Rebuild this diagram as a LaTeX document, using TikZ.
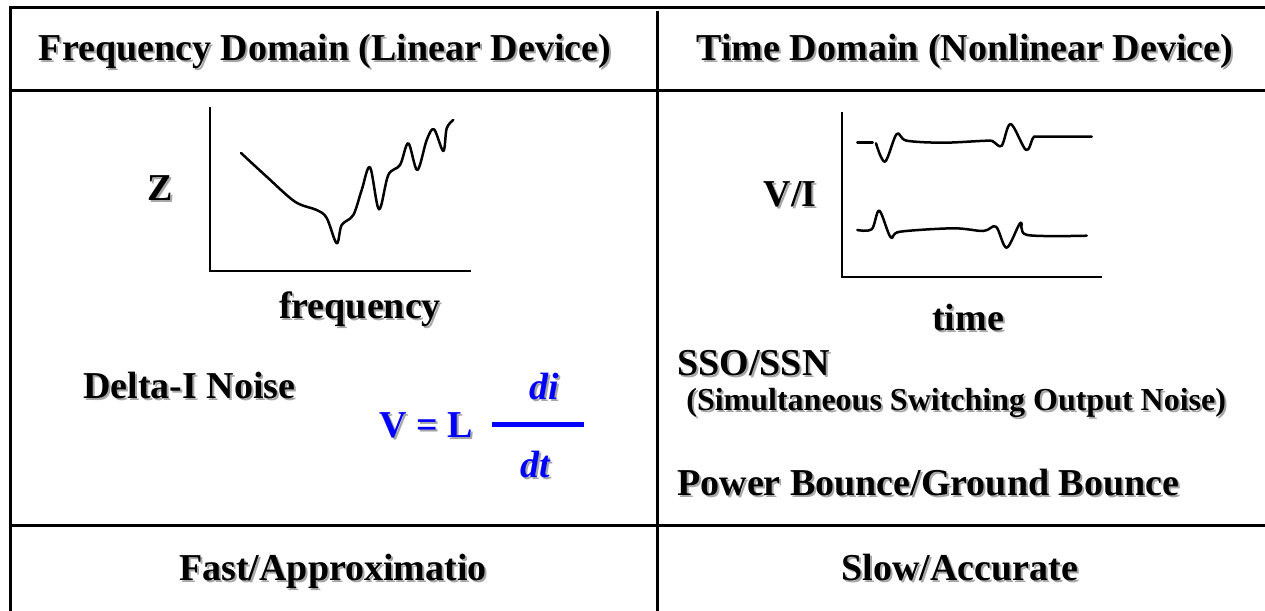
\documentclass[tikz,border=0pt]{standalone}
\usepackage{fontspec}
\setmainfont{Liberation Serif}
% text with a light drop shadow
\newcommand{\shd}[1]{\makebox[0pt][l]{\hspace{1pt}\raisebox{-1pt}{\color{black!35}#1}}#1}

\begin{document}
\begin{tikzpicture}[x=0.5pt,y=-0.5pt,
        lbl/.style={font=\fontsize{19}{22}\selectfont\bfseries, inner sep=0pt, anchor=base},
        lblw/.style={lbl, anchor=base west},
        small/.style={font=\fontsize{16}{19}\selectfont\bfseries, inner sep=0pt, anchor=base west},
        grid/.style={line width=1.5pt},
        axis/.style={line width=1.1pt},
        curve/.style={line width=1.25pt, line join=round, line cap=round}]

        \useasboundingbox (0,0) rectangle (1265,611);

        \coordinate (tl) at (10,7);
        \coordinate (tr) at (1265,7);
        \coordinate (bl) at (10,611);
        \coordinate (mt) at (657,11);
        \coordinate (mb) at (657,611);
        \coordinate (hl) at (10,90);
        \coordinate (hr) at (1265,90);
        \coordinate (fl) at (10,525);
        \coordinate (fr) at (1265,525);

        % Draw table
        \draw[grid] (tr) -- (tl) -- (bl);
        \draw[grid] (mt) -- (mb);
        \draw[grid] (hl) -- (hr);
        \draw[grid] (fl) -- (fr);

        % Headers
        \node[lbl] (hfreq) at (325,60) {\shd{Frequency Domain (Linear Device)}};
        \node[lbl] (htime) at (965,60) {\shd{Time Domain (Nonlinear Device)}};

        % Impedance plot
        \coordinate (za) at (210,107);
        \coordinate (zo) at (210,271);
        \coordinate (zx) at (471,271);
        \draw[axis] (za) -- (zo) -- (zx);
        \draw[curve] plot[smooth, tension=0.55] coordinates {
            (241,153) (266.7,176.7) (295,201.7) (316.7,210) (326.7,218)
            (336.7,243.3) (341.7,225) (353.3,215) (361.7,190) (370,167.3)
            (379,209.3) (388.3,175) (400,165) (408.3,143.3) (417.3,170)
            (426.7,140) (434,129.3) (443.3,151) (446.7,128.3) (453.3,120)};
        \node[lbl] (zlab) at (160,200) {\shd{Z}};
        \node[lbl] (freqlab) at (360,318) {\shd{frequency}};

        % Delta-I noise
        \node[lblw] (delta) at (83,398) {\shd{Delta-I Noise}};
        \node[lbl, text=blue] (veq) at (426,437) {\shd{V = L}};
        \node[lbl, text=blue, font=\fontsize{19}{22}\selectfont\bfseries\itshape] (di) at (544,399) {\shd{di}};
        \node[lbl, text=blue, font=\fontsize{19}{22}\selectfont\bfseries\itshape] (dt) at (535,477) {\shd{dt}};
        \coordinate (barl) at (492,424);
        \coordinate (barr) at (584,424);
        \draw[blue, line width=2.5pt] (barl) -- (barr);

        % Time plot
        \coordinate (ta) at (842,112);
        \coordinate (to) at (842,277);
        \coordinate (tx) at (1102,277);
        \draw[axis] (ta) -- (to) -- (tx);
        \coordinate (s1) at (857.3,142.3);
        \coordinate (s2) at (872.7,142.3);
        \draw[curve] (s1) -- (s2);
        \draw[curve] plot[smooth, tension=0.55] coordinates {
            (876,143.3) (885,161.7) (896.7,134) (906.7,140.7) (943.3,142.7)
            (986.7,140.7) (993.3,141.7) (1001.7,145.7) (1010.7,124) (1026,150)
            (1033.3,137.7) (1040,136.7) (1091.7,136.7)};
        \draw[curve] plot[smooth, tension=0.55] coordinates {
            (857.3,230) (871.7,229.3) (879.3,210.7) (890.7,237.3) (900,231.7)
            (953.3,228.3) (983.3,231) (996,226.7) (1006.7,247.7) (1020.7,222.7)
            (1027.3,235) (1086.7,235.7)};
        \node[lbl] (vilab) at (790,206) {\shd{V/I}};
        \node[lbl] (timelab) at (968,330) {\shd{time}};

        % SSO / bounce
        \node[lblw] (sso) at (677,375) {\shd{SSO/SSN}};
        \node[small] (ssodesc) at (686,410) {\shd{(Simultaneous Switching Output Noise)}};
        \node[lblw] (bounce) at (677,495) {\shd{Power Bounce/Ground Bounce}};

        % Footer
        \node[lbl] (fast) at (333,580) {\shd{Fast/Approximatio}};
        \node[lbl] (slow) at (960,580) {\shd{Slow/Accurate}};

\end{tikzpicture}
\end{document}
